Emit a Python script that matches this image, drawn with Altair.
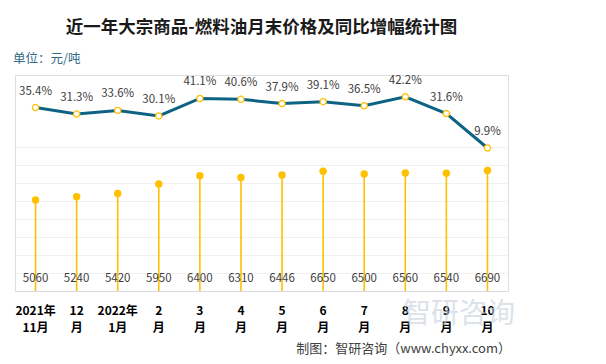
import altair as alt
import pandas as pd

labels = ["2021年\n11月", "12\n月", "2022年\n1月", "2\n月", "3\n月", "4\n月",
          "5\n月", "6\n月", "7\n月", "8\n月", "9\n月", "10\n月"]
prices = [5060, 5240, 5420, 5950, 6400, 6310, 6446, 6650, 6500, 6560, 6540, 6690]
yoy = [35.4, 31.3, 33.6, 30.1, 41.1, 40.6, 37.9, 39.1, 36.5, 42.2, 31.6, 9.9]
grid_values = [0, 1000, 2000, 3000, 4000, 5000, 6000, 7000, 8000]

df = pd.DataFrame({"label": labels, "price": prices, "yoy": yoy})
df["yoy_text"] = [f"{v:.1f}%" for v in yoy]

FONT = "Noto Sans CJK SC"
YELLOW = "#FFC000"
TEAL = "#0E6385"

x = alt.X("label:N", sort=labels, title=None,
          scale=alt.Scale(paddingInner=0, paddingOuter=0),
          axis=alt.Axis(labelAngle=0, ticks=False, domainColor="#D9D9D9",
                        labelFontWeight="bold", labelColor="#000000",
                        labelFontSize=12, labelFont=FONT, labelPadding=14,
                        labelLineHeight=17, labelExpr="split(datum.label, '\\n')"))

yp = alt.Y("price:Q", scale=alt.Scale(domain=[0, 12000], nice=False),
           axis=alt.Axis(values=grid_values, grid=True, gridColor="#F0F0F0",
                         labels=False, ticks=False, domain=False, title=None))

base = alt.Chart(df)

stems = base.mark_rule(color=YELLOW, strokeWidth=1.6).encode(x=x, y=yp, y2=alt.datum(0))
dots = base.mark_circle(color=YELLOW, opacity=1, size=55).encode(x=x, y=yp)
price_text = base.mark_text(font=FONT, fontSize=11.5, color="#404040").encode(
    x=x, y=alt.value(204), text="price:Q")

prim = alt.layer(stems, dots, price_text)

ys = alt.Y("yoy:Q", scale=alt.Scale(domain=[-80.2, 55.9], nice=False), axis=None)
line = base.mark_line(color=TEAL, strokeWidth=3).encode(x=x, y=ys)
lpts = base.mark_point(shape="circle", filled=True, fill="#FFFFFF", stroke=YELLOW,
                       strokeWidth=1.3, size=38, opacity=1).encode(x=x, y=ys)
ltext = base.mark_text(font=FONT, fontSize=11.5, color="#404040", dy=-16).encode(
    x=x, y=ys, text="yoy_text:N")

sec = alt.layer(line, lpts, ltext)

wm = alt.Chart(pd.DataFrame({"t": ["智研咨询"]})).mark_text(
    font=FONT, fontSize=28, color="#C5CFDA", opacity=0.6, align="left").encode(
    x=alt.value(388), y=alt.value(240), text="t:N")

unit = alt.Chart(pd.DataFrame({"t": ["单位：元/吨"]})).mark_text(
    font=FONT, fontSize=12.5, color="#2F6A87", align="left").encode(
    x=alt.value(-2), y=alt.value(-16), text="t:N")

footer = alt.Chart(pd.DataFrame({"t": ["制图：智研咨询（www.chyxx.com）"]})).mark_text(
    font=FONT, fontSize=13, color="#404040", align="right").encode(
    x=alt.value(496), y=alt.value(58 + 216), text="t:N")

chart = alt.layer(wm, prim, sec, unit, footer).resolve_scale(y="independent").properties(
    width=493, height=216,
    autosize=alt.AutoSizeParams(type="none"),
    padding={"left": 7, "top": 67, "right": 90, "bottom": 65},
    title=alt.TitleParams("近一年大宗商品-燃料油月末价格及同比增幅统计图",
                          font=FONT, fontSize=17.5, fontWeight="bold", color="#1a1a1a",
                          anchor="middle", frame="group", offset=17),
).configure_view(stroke=None).configure(background="#FFFFFF")

chart.save("out.html", embed_options={"renderer": "svg", "actions": False})
